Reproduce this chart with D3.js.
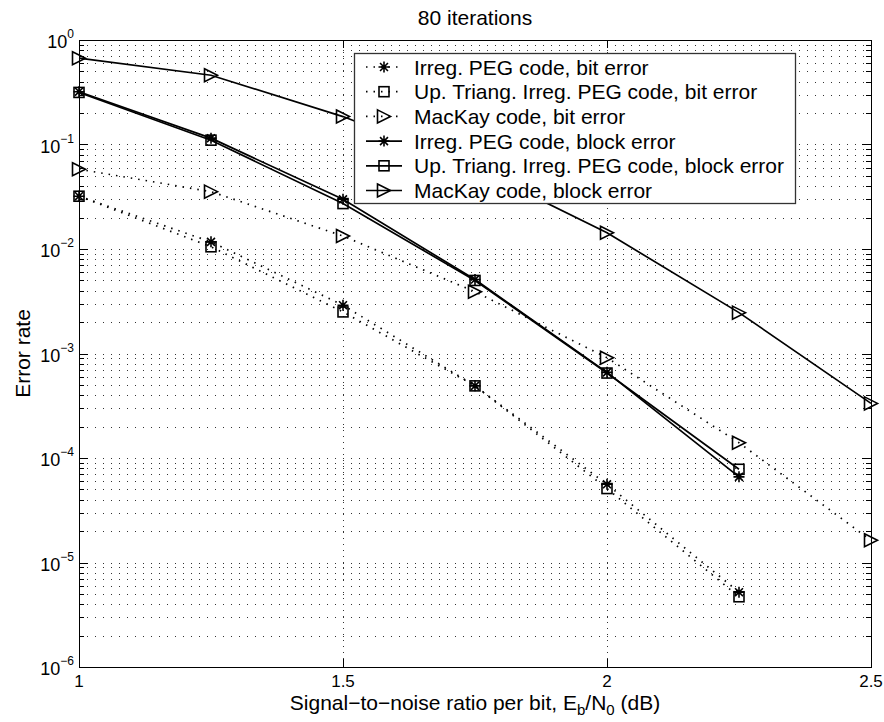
<!DOCTYPE html>
<html><head><meta charset="utf-8">
<script src="https://cdn.jsdelivr.net/npm/d3@7"></script>
<style>
html,body{margin:0;padding:0;background:#fff;}
text{font-family:"Liberation Sans",Arial,Helvetica,sans-serif;fill:#000;}
</style></head>
<body>
<svg id="chart" width="884" height="722"></svg>
<script>
// ---- data ----
const snr = [1, 1.25, 1.5, 1.75, 2, 2.25, 2.5];
const pegBit      = [0.032, 0.0117, 0.0029, 0.00049, 0.000056, 0.0000052];
const utBit       = [0.032, 0.0105, 0.0025, 0.00049, 0.000051, 0.0000047];
const mackayBit   = [0.058, 0.0354, 0.0133, 0.0039, 0.00091, 0.00014, 0.0000163];
const pegBlock    = [0.32, 0.115, 0.0299, 0.0051, 0.00066, 0.000066];
const utBlock     = [0.315, 0.11, 0.0272, 0.0050, 0.00065, 0.000078];
const mackayBlock = [0.67, 0.46, 0.185, 0.06, 0.0143, 0.00246, 0.000333];
const seriesNames = [
  "Irreg. PEG code, bit error",
  "Up. Triang. Irreg. PEG code, bit error",
  "MacKay code, bit error",
  "Irreg. PEG code, block error",
  "Up. Triang. Irreg. PEG code, block error",
  "MacKay code, block error"
];
const xTicks = [1, 1.5, 2, 2.5];
const yExponents = [0, -1, -2, -3, -4, -5, -6];
const titleText = "80 iterations";
const yLabelText = "Error rate";

const series = [
  {name: seriesNames[0], values: pegBit, marker: "star", dotted: true},
  {name: seriesNames[1], values: utBit, marker: "square", dotted: true},
  {name: seriesNames[2], values: mackayBit, marker: "tri", dotted: true},
  {name: seriesNames[3], values: pegBlock, marker: "star", dotted: false},
  {name: seriesNames[4], values: utBlock, marker: "square", dotted: false},
  {name: seriesNames[5], values: mackayBlock, marker: "tri", dotted: false}
];

// ---- layout ----
const L = 79, R = 871, T = 40, B = 667;
const svg = d3.select("#chart");
const x = d3.scaleLinear().domain([1, 2.5]).range([L, R]);
const y = d3.scaleLog().domain([1e-6, 1]).range([B, T]);
const crisp = v => Math.round(v) + 0.5;

const grid = svg.append("g");
const gridDash = "1,7";
// horizontal grid (major + minor)
y.ticks().forEach(v => {
  const yy = y(v);
  if (Math.abs(yy - T) < 0.5 || Math.abs(yy - B) < 0.5) return;
  grid.append("line").attr("x1", L).attr("x2", R).attr("y1", crisp(yy)).attr("y2", crisp(yy))
    .attr("stroke", "#333").attr("stroke-width", 1).attr("stroke-dasharray", gridDash);
});
// vertical grid
xTicks.forEach(v => {
  const xx = x(v);
  if (xx <= L + 0.5 || xx >= R - 0.5) return;
  grid.append("line").attr("x1", crisp(xx)).attr("x2", crisp(xx)).attr("y1", T).attr("y2", B)
    .attr("stroke", "#333").attr("stroke-width", 1).attr("stroke-dasharray", "1,5");
});

// axis ticks (inside, both sides)
const axes = svg.append("g").attr("stroke", "#000").attr("stroke-width", 1);
y.ticks().forEach(v => {
  const yy = crisp(y(v));
  const major = Math.abs(Math.log10(v) - Math.round(Math.log10(v))) < 1e-9;
  const len = major ? 9 : 5;
  axes.append("line").attr("x1", L).attr("x2", L + len).attr("y1", yy).attr("y2", yy);
  axes.append("line").attr("x1", R).attr("x2", R - len).attr("y1", yy).attr("y2", yy);
});
xTicks.forEach(v => {
  const xx = crisp(x(v));
  axes.append("line").attr("x1", xx).attr("x2", xx).attr("y1", B).attr("y2", B - 8);
  axes.append("line").attr("x1", xx).attr("x2", xx).attr("y1", T).attr("y2", T + 8);
});
axes.append("rect").attr("x", L + 0.5).attr("y", T + 0.5).attr("width", R - L).attr("height", B - T)
  .attr("fill", "none");

// tick labels
xTicks.forEach(v => {
  svg.append("text").attr("x", x(v)).attr("y", 687).attr("text-anchor", "middle")
    .attr("font-size", 17).text(String(v));
});
yExponents.forEach(e => {
  const yy = y(Math.pow(10, e));
  const t = svg.append("text").attr("x", 74).attr("y", yy + 8).attr("text-anchor", "end")
    .attr("font-size", 18);
  t.append("tspan").text("10");
  t.append("tspan").attr("font-size", 12).attr("dy", -10)
    .text(e === 0 ? "0" : "\u2212" + Math.abs(e));
});

// title & labels
svg.append("text").attr("x", (L + R) / 2).attr("y", 25).attr("text-anchor", "middle")
  .attr("font-size", 21).text(titleText);
const xl = svg.append("text").attr("x", (L + R) / 2).attr("y", 710).attr("text-anchor", "middle")
  .attr("font-size", 21);
xl.append("tspan").text("Signal\u2212to\u2212noise ratio per bit, E");
xl.append("tspan").attr("font-size", 15).attr("dy", 5).text("b");
xl.append("tspan").attr("dy", -5).text("/N");
xl.append("tspan").attr("font-size", 15).attr("dy", 5).text("0");
xl.append("tspan").attr("dy", -5).text(" (dB)");
svg.append("text").attr("transform", `translate(30,${(T + B) / 2}) rotate(-90)`)
  .attr("text-anchor", "middle").attr("font-size", 21).text(yLabelText);

// markers
function drawMarker(g, kind, cx, cy) {
  const m = g.append("g").attr("fill", "none").attr("stroke", "#000").attr("stroke-width", 1.6);
  if (kind === "tri") {
    const w = 13, h = 13;
    m.append("path").attr("d", `M${cx - w/2},${cy - h/2} L${cx + w/2},${cy} L${cx - w/2},${cy + h/2} Z`);
  } else if (kind === "square") {
    const s = 10;
    m.append("rect").attr("x", cx - s/2).attr("y", cy - s/2).attr("width", s).attr("height", s);
  } else {
    const r = 5.5, d = r * 0.72;
    m.append("path").attr("d",
      `M${cx - r},${cy} L${cx + r},${cy} M${cx},${cy - r} L${cx},${cy + r} ` +
      `M${cx - d},${cy - d} L${cx + d},${cy + d} M${cx - d},${cy + d} L${cx + d},${cy - d}`);
  }
}

const plot = svg.append("g");
const line = d3.line().x(d => x(d[0])).y(d => y(d[1]));
series.forEach(s => {
  const pts = s.values.map((v, i) => [snr[i], v]);
  plot.append("path").datum(pts).attr("d", line).attr("fill", "none")
    .attr("stroke", "#000").attr("stroke-width", 1.7)
    .attr("stroke-dasharray", s.dotted ? "1.5,6" : null);
  pts.forEach(p => drawMarker(plot, s.marker, x(p[0]), y(p[1])));
});

// legend
const lg = svg.append("g");
lg.append("rect").attr("x", 354.5).attr("y", 53.5).attr("width", 441).attr("height", 150)
  .attr("fill", "#fff").attr("stroke", "#333").attr("stroke-width", 1.3);
series.forEach((s, i) => {
  const cy = 67 + i * 24.7;
  lg.append("line").attr("x1", 366).attr("x2", 402).attr("y1", cy).attr("y2", cy)
    .attr("stroke", "#000").attr("stroke-width", 1.7)
    .attr("stroke-dasharray", s.dotted ? "1.5,6" : null);
  drawMarker(lg, s.marker, 384, cy);
  lg.append("text").attr("x", 414).attr("y", cy + 7.5).attr("font-size", 21).text(s.name);
});
</script>
</body></html>
